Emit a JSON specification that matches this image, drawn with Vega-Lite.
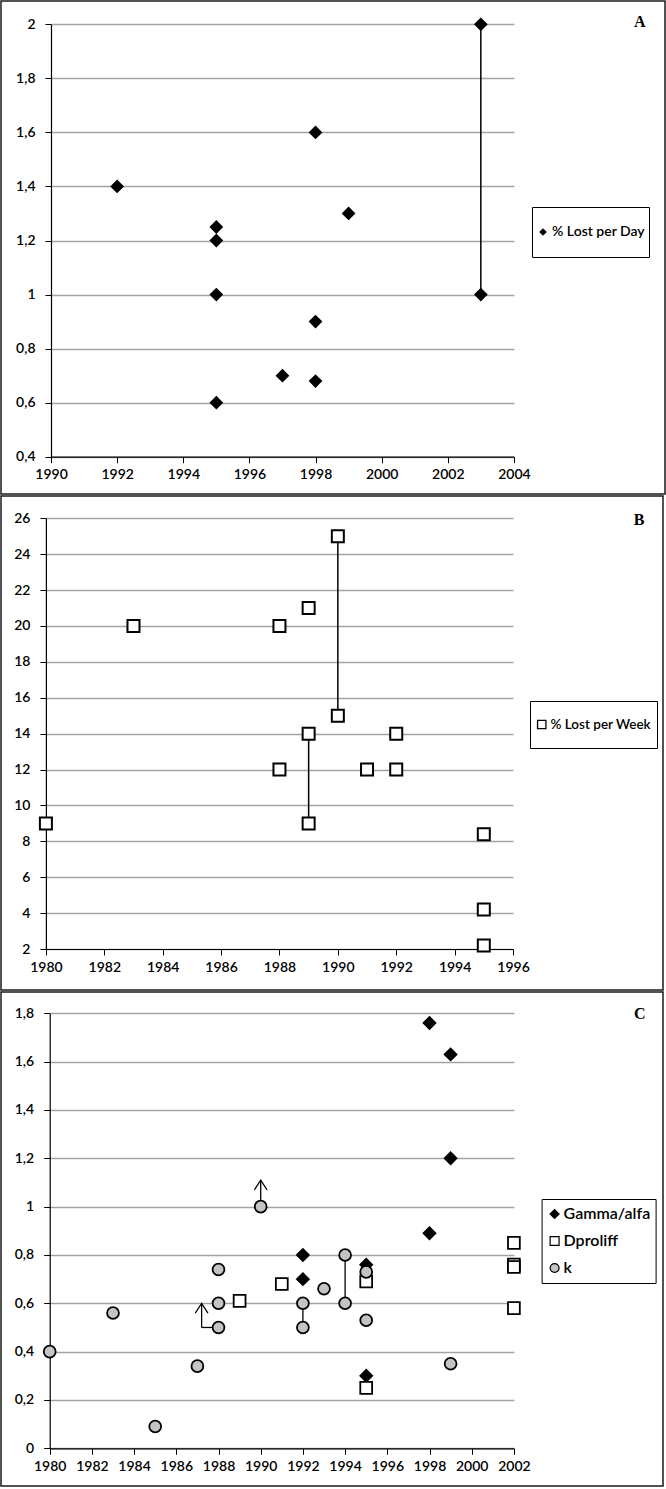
{
  "$schema": "https://vega.github.io/schema/vega-lite/v6.json",
  "background": "white",
  "padding": 0,
  "spacing": 2,
  "bounds": "flush",
  "datasets": {
    "A_points": [
      {"year": 1992, "value": 1.4, "series": "% Lost per Day"},
      {"year": 1995, "value": 1.25, "series": "% Lost per Day"},
      {"year": 1995, "value": 1.2, "series": "% Lost per Day"},
      {"year": 1995, "value": 1.0, "series": "% Lost per Day"},
      {"year": 1995, "value": 0.6, "series": "% Lost per Day"},
      {"year": 1997, "value": 0.7, "series": "% Lost per Day"},
      {"year": 1998, "value": 1.6, "series": "% Lost per Day"},
      {"year": 1998, "value": 0.9, "series": "% Lost per Day"},
      {"year": 1998, "value": 0.68, "series": "% Lost per Day"},
      {"year": 1999, "value": 1.3, "series": "% Lost per Day"},
      {"year": 2003, "value": 2.0, "series": "% Lost per Day"},
      {"year": 2003, "value": 1.0, "series": "% Lost per Day"}
    ],
    "A_lines": [
      {"year": 2003, "value": 1.0, "year2": 2003, "value2": 2.0}
    ],
    "A_label": [{"label": "A"}],
    "B_points": [
      {"year": 1980, "value": 9, "series": "% Lost per Week"},
      {"year": 1983, "value": 20, "series": "% Lost per Week"},
      {"year": 1988, "value": 20, "series": "% Lost per Week"},
      {"year": 1988, "value": 12, "series": "% Lost per Week"},
      {"year": 1989, "value": 21, "series": "% Lost per Week"},
      {"year": 1989, "value": 14, "series": "% Lost per Week"},
      {"year": 1989, "value": 9, "series": "% Lost per Week"},
      {"year": 1990, "value": 25, "series": "% Lost per Week"},
      {"year": 1990, "value": 15, "series": "% Lost per Week"},
      {"year": 1991, "value": 12, "series": "% Lost per Week"},
      {"year": 1992, "value": 14, "series": "% Lost per Week"},
      {"year": 1992, "value": 12, "series": "% Lost per Week"},
      {"year": 1995, "value": 8.4, "series": "% Lost per Week"},
      {"year": 1995, "value": 4.2, "series": "% Lost per Week"},
      {"year": 1995, "value": 2.2, "series": "% Lost per Week"}
    ],
    "B_lines": [
      {"year": 1990, "value": 15, "year2": 1990, "value2": 25},
      {"year": 1989, "value": 9, "year2": 1989, "value2": 14}
    ],
    "B_label": [{"label": "B"}],
    "C_points": [
      {"year": 1992, "value": 0.8, "series": "Gamma/alfa"},
      {"year": 1992, "value": 0.7, "series": "Gamma/alfa"},
      {"year": 1995, "value": 0.76, "series": "Gamma/alfa"},
      {"year": 1995, "value": 0.3, "series": "Gamma/alfa"},
      {"year": 1998, "value": 1.76, "series": "Gamma/alfa"},
      {"year": 1998, "value": 0.89, "series": "Gamma/alfa"},
      {"year": 1999, "value": 1.63, "series": "Gamma/alfa"},
      {"year": 1999, "value": 1.2, "series": "Gamma/alfa"},
      {"year": 1989, "value": 0.61, "series": "Dproliff"},
      {"year": 1991, "value": 0.68, "series": "Dproliff"},
      {"year": 1995, "value": 0.69, "series": "Dproliff"},
      {"year": 1995, "value": 0.25, "series": "Dproliff"},
      {"year": 2002, "value": 0.85, "series": "Dproliff"},
      {"year": 2002, "value": 0.76, "series": "Dproliff"},
      {"year": 2002, "value": 0.75, "series": "Dproliff"},
      {"year": 2002, "value": 0.58, "series": "Dproliff"},
      {"year": 1980, "value": 0.4, "series": "k"},
      {"year": 1983, "value": 0.56, "series": "k"},
      {"year": 1985, "value": 0.09, "series": "k"},
      {"year": 1987, "value": 0.34, "series": "k"},
      {"year": 1988, "value": 0.74, "series": "k"},
      {"year": 1988, "value": 0.6, "series": "k"},
      {"year": 1988, "value": 0.5, "series": "k"},
      {"year": 1990, "value": 1.0, "series": "k"},
      {"year": 1992, "value": 0.6, "series": "k"},
      {"year": 1992, "value": 0.5, "series": "k"},
      {"year": 1993, "value": 0.66, "series": "k"},
      {"year": 1994, "value": 0.8, "series": "k"},
      {"year": 1994, "value": 0.6, "series": "k"},
      {"year": 1995, "value": 0.73, "series": "k"},
      {"year": 1995, "value": 0.53, "series": "k"},
      {"year": 1999, "value": 0.35, "series": "k"}
    ],
    "C_lines": [
      {"year": 1992, "value": 0.5, "year2": 1992, "value2": 0.6},
      {"year": 1994, "value": 0.6, "year2": 1994, "value2": 0.8},
      {"year": 1990, "value": 1.0, "year2": 1990, "value2": 1.11},
      {"year": 1988, "value": 0.5, "year2": 1987.2, "value2": 0.5},
      {"year": 1987.2, "value": 0.5, "year2": 1987.2, "value2": 0.6}
    ],
    "C_tips": [
      {"year": 1990, "value": 1.11},
      {"year": 1987.2, "value": 0.6}
    ],
    "C_label": [{"label": "C"}]
  },
  "vconcat": [
    {
      "width": 664,
      "height": 493,
      "layer": [
        {"data": {"name": "A_lines"}, "mark": {"type": "rule", "color": "black", "strokeWidth": 1.5},
          "encoding": {
            "x": {"field": "year", "type": "quantitative",
              "scale": {"domain": [1990, 2004], "range": [50, 512.9], "nice": false, "zero": false},
              "axis": {"values": [1990, 1992, 1994, 1996, 1998, 2000, 2002, 2004], "format": "d", "offset": -37.3, "grid": false, "title": null}},
            "y": {"field": "value", "type": "quantitative",
              "scale": {"domain": [0.4, 2], "range": [455.7, 23.3], "nice": false, "zero": false},
              "axis": {"values": [0.4, 0.6, 0.8, 1, 1.2, 1.4, 1.6, 1.8, 2], "offset": -50, "grid": true, "title": null, "labelExpr": "replace(toString(datum.value), '.', ',')"}},
            "x2": {"field": "year2"}, "y2": {"field": "value2"}}},
        {"data": {"name": "A_points"},
          "mark": {"type": "point", "filled": true, "size": 190, "opacity": 1, "strokeWidth": 0},
          "encoding": {
            "x": {"field": "year", "type": "quantitative",
              "scale": {"domain": [1990, 2004], "range": [50, 512.9], "nice": false, "zero": false},
              "axis": {"values": [1990, 1992, 1994, 1996, 1998, 2000, 2002, 2004], "format": "d", "offset": -37.3, "grid": false, "title": null}},
            "y": {"field": "value", "type": "quantitative",
              "scale": {"domain": [0.4, 2], "range": [455.7, 23.3], "nice": false, "zero": false},
              "axis": {"values": [0.4, 0.6, 0.8, 1, 1.2, 1.4, 1.6, 1.8, 2], "offset": -50, "grid": true, "title": null, "labelExpr": "replace(toString(datum.value), '.', ',')"}},
            "shape": {"field": "series", "type": "nominal", "scale": {"range": ["diamond"]},
              "legend": {"orient": "none", "legendX": 531, "legendY": 206, "title": null, "strokeColor": "black", "padding": 4, "labelOffset": 2, "labelFont": "Lato", "labelFontSize": 14, "labelFontWeight": 600, "labelColor": "black", "symbolSize": 60, "clipHeight": 42}},
            "fill": {"field": "series", "type": "nominal", "scale": {"range": ["black"]},
              "legend": {"orient": "none", "legendX": 531, "legendY": 206, "title": null, "strokeColor": "black", "padding": 4, "labelOffset": 2, "labelFont": "Lato", "labelFontSize": 14, "labelFontWeight": 600, "labelColor": "black", "symbolSize": 60, "clipHeight": 42}}
          }},
        {"data": {"name": "A_label"},
          "mark": {"type": "text", "align": "right", "baseline": "alphabetic", "font": "Liberation Serif", "fontWeight": "bold", "fontSize": 16, "color": "black"},
          "encoding": {"x": {"datum": 2007.98, "type": "quantitative"}, "y": {"datum": 1.991, "type": "quantitative"}, "text": {"field": "label", "type": "nominal"}}}
      ]
    },
    {
      "width": 662,
      "height": 494,
      "layer": [
        {"data": {"name": "B_lines"}, "mark": {"type": "rule", "color": "black", "strokeWidth": 1.5},
          "encoding": {
            "x": {"field": "year", "type": "quantitative",
              "scale": {"domain": [1980, 1996], "range": [44.9, 512], "nice": false, "zero": false},
              "axis": {"values": [1980, 1982, 1984, 1986, 1988, 1990, 1992, 1994, 1996], "format": "d", "offset": -41, "grid": false, "title": null}},
            "y": {"field": "value", "type": "quantitative",
              "scale": {"domain": [2, 26], "range": [453, 22.3], "nice": false, "zero": false},
              "axis": {"values": [2, 4, 6, 8, 10, 12, 14, 16, 18, 20, 22, 24, 26], "offset": -44.9, "grid": true, "title": null, "format": "d"}},
            "x2": {"field": "year2"}, "y2": {"field": "value2"}}},
        {"data": {"name": "B_points"},
          "mark": {"type": "point", "filled": true, "strokeWidth": 2, "size": 144, "opacity": 1},
          "encoding": {
            "x": {"field": "year", "type": "quantitative",
              "scale": {"domain": [1980, 1996], "range": [44.9, 512], "nice": false, "zero": false},
              "axis": {"values": [1980, 1982, 1984, 1986, 1988, 1990, 1992, 1994, 1996], "format": "d", "offset": -41, "grid": false, "title": null}},
            "y": {"field": "value", "type": "quantitative",
              "scale": {"domain": [2, 26], "range": [453, 22.3], "nice": false, "zero": false},
              "axis": {"values": [2, 4, 6, 8, 10, 12, 14, 16, 18, 20, 22, 24, 26], "offset": -44.9, "grid": true, "title": null, "format": "d"}},
            "shape": {"field": "series", "type": "nominal", "scale": {"range": ["square"]},
              "legend": {"orient": "none", "legendX": 529, "legendY": 205, "title": null, "strokeColor": "black", "padding": 5, "labelOffset": 2, "labelFont": "Lato", "labelFontSize": 13.5, "labelFontWeight": 600, "labelColor": "black", "symbolSize": 70, "clipHeight": 37, "symbolStrokeWidth": 1.3}},
            "fill": {"field": "series", "type": "nominal", "scale": {"range": ["white"]},
              "legend": {"orient": "none", "legendX": 529, "legendY": 205, "title": null, "strokeColor": "black", "padding": 5, "labelOffset": 2, "labelFont": "Lato", "labelFontSize": 13.5, "labelFontWeight": 600, "labelColor": "black", "symbolSize": 70, "clipHeight": 37, "symbolStrokeWidth": 1.3}},
            "stroke": {"field": "series", "type": "nominal", "scale": {"range": ["black"]},
              "legend": {"orient": "none", "legendX": 529, "legendY": 205, "title": null, "strokeColor": "black", "padding": 5, "labelOffset": 2, "labelFont": "Lato", "labelFontSize": 13.5, "labelFontWeight": 600, "labelColor": "black", "symbolSize": 70, "clipHeight": 37, "symbolStrokeWidth": 1.3}}
          }},
        {"data": {"name": "B_label"},
          "mark": {"type": "text", "align": "right", "baseline": "alphabetic", "font": "Liberation Serif", "fontWeight": "bold", "fontSize": 16, "color": "black"},
          "encoding": {"x": {"datum": 2000.5, "type": "quantitative"}, "y": {"datum": 25.6, "type": "quantitative"}, "text": {"field": "label", "type": "nominal"}}}
      ]
    },
    {
      "width": 662,
      "height": 494,
      "layer": [
        {"data": {"name": "C_lines"}, "mark": {"type": "rule", "color": "black", "strokeWidth": 1.3},
          "encoding": {
            "x": {"field": "year", "type": "quantitative",
              "scale": {"domain": [1980, 2002], "range": [48.7, 512.9], "nice": false, "zero": false},
              "axis": {"values": [1980, 1982, 1984, 1986, 1988, 1990, 1992, 1994, 1996, 1998, 2000, 2002], "format": "d", "offset": -37.7, "grid": false, "title": null}},
            "y": {"field": "value", "type": "quantitative",
              "scale": {"domain": [0, 1.8], "range": [456.3, 21.3], "nice": false, "zero": false},
              "axis": {"values": [0, 0.2, 0.4, 0.6, 0.8, 1, 1.2, 1.4, 1.6, 1.8], "offset": -48.7, "grid": true, "title": null, "labelExpr": "replace(toString(datum.value), '.', ',')"}},
            "x2": {"field": "year2"}, "y2": {"field": "value2"}}},
        {"data": {"name": "C_tips"},
          "mark": {"type": "point", "shape": "M-1,1.55L0,0L1,1.55", "filled": false, "stroke": "black", "strokeWidth": 1.2, "size": 160, "opacity": 1},
          "encoding": {
            "x": {"field": "year", "type": "quantitative"},
            "y": {"field": "value", "type": "quantitative"}
          }},
        {"data": {"name": "C_points"},
          "mark": {"type": "point", "filled": true, "strokeWidth": 1.8, "size": 140, "opacity": 1},
          "encoding": {
            "x": {"field": "year", "type": "quantitative",
              "scale": {"domain": [1980, 2002], "range": [48.7, 512.9], "nice": false, "zero": false},
              "axis": {"values": [1980, 1982, 1984, 1986, 1988, 1990, 1992, 1994, 1996, 1998, 2000, 2002], "format": "d", "offset": -37.7, "grid": false, "title": null}},
            "y": {"field": "value", "type": "quantitative",
              "scale": {"domain": [0, 1.8], "range": [456.3, 21.3], "nice": false, "zero": false},
              "axis": {"values": [0, 0.2, 0.4, 0.6, 0.8, 1, 1.2, 1.4, 1.6, 1.8], "offset": -48.7, "grid": true, "title": null, "labelExpr": "replace(toString(datum.value), '.', ',')"}},
            "shape": {"field": "series", "type": "nominal", "scale": {"domain": ["Gamma/alfa", "Dproliff", "k"], "range": ["diamond", "square", "circle"]},
              "legend": {"orient": "none", "legendX": 540.6, "legendY": 207, "title": null, "strokeColor": "black", "padding": 5, "labelOffset": 1, "labelFont": "Lato", "labelFontSize": 16, "labelFontWeight": 600, "labelColor": "black", "symbolSize": 80, "clipHeight": 20, "rowPadding": 7, "symbolStrokeWidth": 1.2}},
            "fill": {"field": "series", "type": "nominal", "scale": {"domain": ["Gamma/alfa", "Dproliff", "k"], "range": ["black", "white", "#c4c4c4"]},
              "legend": {"orient": "none", "legendX": 540.6, "legendY": 207, "title": null, "strokeColor": "black", "padding": 5, "labelOffset": 1, "labelFont": "Lato", "labelFontSize": 16, "labelFontWeight": 600, "labelColor": "black", "symbolSize": 80, "clipHeight": 20, "rowPadding": 7, "symbolStrokeWidth": 1.2}},
            "stroke": {"field": "series", "type": "nominal", "scale": {"domain": ["Gamma/alfa", "Dproliff", "k"], "range": ["black", "black", "black"]},
              "legend": {"orient": "none", "legendX": 540.6, "legendY": 207, "title": null, "strokeColor": "black", "padding": 5, "labelOffset": 1, "labelFont": "Lato", "labelFontSize": 16, "labelFontWeight": 600, "labelColor": "black", "symbolSize": 80, "clipHeight": 20, "rowPadding": 7, "symbolStrokeWidth": 1.2}}
          }},
        {"data": {"name": "C_label"},
          "mark": {"type": "text", "align": "right", "baseline": "alphabetic", "font": "Liberation Serif", "fontWeight": "bold", "fontSize": 16, "color": "black"},
          "encoding": {"x": {"datum": 2008.24, "type": "quantitative"}, "y": {"datum": 1.777, "type": "quantitative"}, "text": {"field": "label", "type": "nominal"}}}
      ]
    }
  ],
  "resolve": {
    "scale": {"x": "independent", "y": "independent", "shape": "independent", "fill": "independent", "stroke": "independent"},
    "axis": {"x": "independent", "y": "independent"},
    "legend": {"shape": "independent", "fill": "independent", "stroke": "independent"}
  },
  "config": {
    "view": {"stroke": "#1a1a1a", "strokeWidth": 1.5},
    "axis": {
      "labelFont": "Lato", "labelFontSize": 14, "labelFontWeight": 600, "labelColor": "black",
      "domainColor": "black", "domainWidth": 1.2,
      "tickColor": "black", "tickSize": 6, "tickWidth": 1,
      "gridColor": "#a3a3a3", "gridWidth": 1.5,
      "labelFlush": false, "labelOverlap": false, "labelBound": false
    },
    "axisY": {"labelPadding": 10},
    "axisX": {"labelPadding": 5}
  }
}
